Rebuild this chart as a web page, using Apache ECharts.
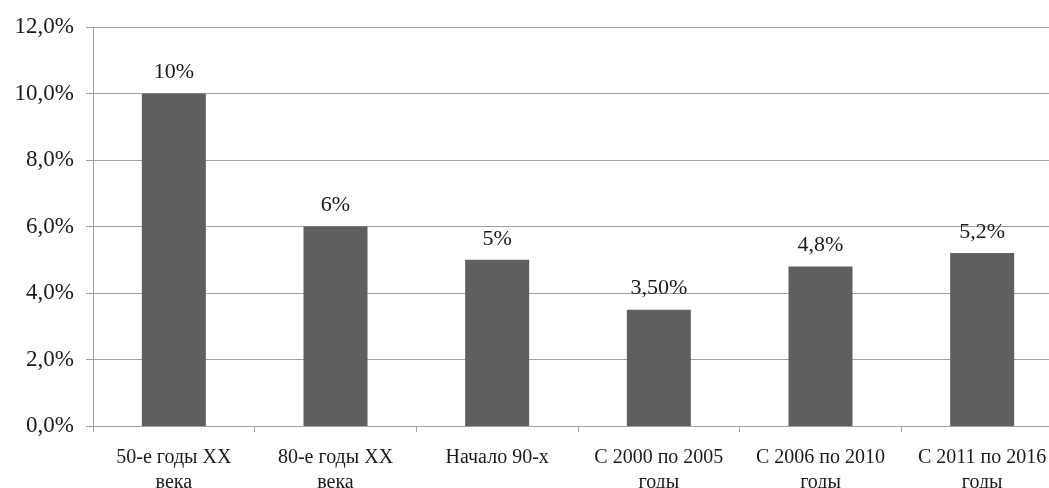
<!DOCTYPE html>
<html>
<head>
<meta charset="utf-8">
<script src="https://cdn.jsdelivr.net/npm/echarts@6/dist/echarts.min.js"></script>
<style>
  html, body { margin: 0; padding: 0; background: #fff; overflow: hidden; }
  #main { width: 1063px; height: 488px; }
</style>
</head>
<body>
<div id="main"></div>
<script>
var categories = ['50-е годы XX\nвека', '80-е годы XX\nвека', 'Начало 90-х', 'С 2000 по 2005\nгоды', 'С 2006 по 2010\nгоды', 'С 2011 по 2016\nгоды'];
var values = [10, 6, 5, 3.5, 4.8, 5.2];
var valueLabels = ['10%', '6%', '5%', '3,50%', '4,8%', '5,2%'];
var yTickLabels = ['0,0%', '2,0%', '4,0%', '6,0%', '8,0%', '10,0%', '12,0%'];

// the plot runs slightly past the right edge of the window, as in the source
var myChart = echarts.init(document.getElementById('main'));

var option = {
    backgroundColor: '#fff',
    animation: false,
    textStyle: { fontFamily: 'Liberation Serif' },
    grid: {
        left: 93,
        top: 27,
        right: 0,
        bottom: 62,
        outerBoundsMode: 'none'
    },
    xAxis: {
        type: 'category',
        data: categories,
        axisLine: { lineStyle: { color: '#a0a0a0', width: 1 } },
        axisTick: { show: true, length: 6, lineStyle: { color: '#a0a0a0' } },
        axisLabel: {
            interval: 0,
            margin: 19,
            fontSize: 20,
            lineHeight: 25,
            color: '#1a1a1a',
            fontFamily: 'Liberation Serif'
        }
    },
    yAxis: {
        type: 'value',
        min: 0,
        max: 12,
        interval: 2,
        axisLine: { show: true, lineStyle: { color: '#a0a0a0', width: 1 } },
        axisTick: { show: true, length: 7, lineStyle: { color: '#a0a0a0' } },
        splitLine: { lineStyle: { color: '#a0a0a0', width: 1 } },
        axisLabel: {
            margin: 19,
            fontSize: 23,
            color: '#1a1a1a',
            fontFamily: 'Liberation Serif',
            formatter: function (v) { return yTickLabels[Math.round(v / 2)]; }
        }
    },
    series: [{
        type: 'bar',
        data: values,
        barWidth: 64,
        itemStyle: { color: '#5f5f5f' },
        label: {
            show: true,
            position: 'top',
            distance: 10,
            fontSize: 22,
            color: '#1a1a1a',
            fontFamily: 'Liberation Serif',
            formatter: function (p) { return valueLabels[p.dataIndex]; }
        }
    }]
};

myChart.setOption(option);
</script>
</body>
</html>
